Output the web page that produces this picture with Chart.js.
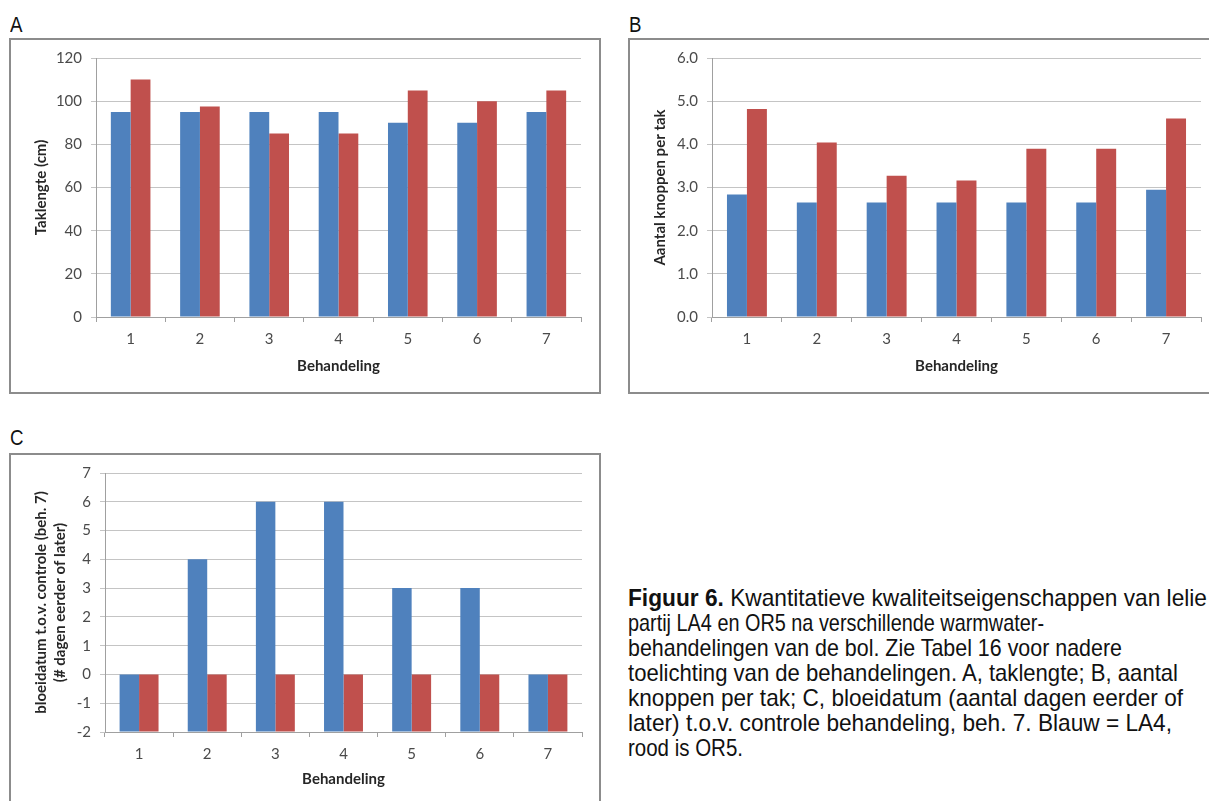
<!DOCTYPE html>
<html><head><meta charset="utf-8">
<script src="https://cdn.jsdelivr.net/npm/chart.js@4/dist/chart.umd.min.js"></script>
<style>
body{margin:0;background:#fff;width:1209px;height:801px;overflow:hidden;position:relative;font-family:'Liberation Sans',sans-serif;color:#111;}
.lbl{position:absolute;font-size:22px;line-height:22px;transform:scaleX(0.85);transform-origin:left top;}
.box{position:absolute;border:2px solid #8c8c8c;box-sizing:border-box;}
canvas{position:absolute;}
.cap{position:absolute;left:628px;top:585px;font-size:24px;line-height:25px;white-space:nowrap;}
.cap > div{width:max-content;transform-origin:left top;}
</style></head>
<body>
<div class="lbl" style="left:10px;top:14px">A</div>
<div class="lbl" style="left:629px;top:14px">B</div>
<div class="lbl" style="left:10px;top:427px">C</div>
<div class="box" style="left:9px;top:38px;width:592px;height:356px"></div>
<div class="box" style="left:628px;top:38px;width:600px;height:356px"></div>
<div class="box" style="left:9px;top:453px;width:592px;height:400px"></div>
<canvas id="cA" width="588" height="352" style="left:11px;top:40px;width:588px;height:352px"></canvas>
<canvas id="cB" width="579" height="352" style="left:630px;top:40px;width:579px;height:352px"></canvas>
<canvas id="cC" width="588" height="346" style="left:11px;top:455px;width:588px;height:346px"></canvas>
<div class="cap">
<div><b>Figuur 6.</b> Kwantitatieve kwaliteitseigenschappen van lelie</div>
<div>partij LA4 en OR5 na verschillende warmwater-</div>
<div>behandelingen van de bol. Zie Tabel 16 voor nadere</div>
<div>toelichting van de behandelingen. A, taklengte; B, aantal</div>
<div>knoppen per tak; C, bloeidatum (aantal dagen eerder of</div>
<div>later) t.o.v. controle behandeling, beh. 7. Blauw = LA4,</div>
<div>rood is OR5.</div>
</div>
<script>
// Data
const categories = ['1','2','3','4','5','6','7'];
const taklengteLA4 = [95, 95, 95, 95, 90, 90, 95];
const taklengteOR5 = [110, 97.5, 85, 85, 105, 100, 105];
const knoppenLA4 = [2.84, 2.65, 2.65, 2.65, 2.65, 2.65, 2.95];
const knoppenOR5 = [4.82, 4.04, 3.27, 3.16, 3.9, 3.9, 4.6];
const bloeiLA4 = [0, 4, 6, 6, 3, 3, 0];
const bloeiOR5 = [0, 0, 0, 0, 0, 0, 0];
const xTitle = 'Behandeling';
const yTitleA = 'Taklengte (cm)';
const yTitleB = 'Aantal knoppen per tak';
const yTitleC = ['bloeidatum t.o.v. controle (beh. 7)', '(# dagen eerder of later)'];

// caption line widths (layout only)
const capWidths = [579, 416, 494, 550, 555, 544, 115];
document.querySelectorAll('.cap > div').forEach((d, i) => {
  const w = d.getBoundingClientRect().width;
  d.style.transform = 'scaleX(' + (capWidths[i] / w) + ')';
});

const BLUE = '#4f81bd', RED = '#c0504d';
const FONT = "Lato, 'Open Sans', sans-serif";
const TICKC = '#4a4a4a', TITLEC = '#262626', GRIDC = '#c4c4c4', AXISC = '#a0a0a0';

function makeChart(id, opts) {
  const datasets = [
    {label: 'LA4', data: opts.blue, backgroundColor: BLUE, base: opts.min},
    {label: 'OR5', data: opts.red, backgroundColor: RED, base: opts.min}
  ];
  return new Chart(document.getElementById(id), {
    type: 'bar',
    data: {labels: categories, datasets},
    options: {
      responsive: false, animation: false,
      layout: {padding: {top: opts.padTop, right: opts.padRight, left: 0, bottom: 0}},
      plugins: {legend: {display: false}, tooltip: {enabled: false}},
      datasets: {bar: {categoryPercentage: 2/3.5, barPercentage: 1}},
      scales: {
        x: {
          grid: {drawOnChartArea: false, drawTicks: true, tickLength: 5, color: AXISC, offset: true},
          border: {color: AXISC, width: 1},
          ticks: {color: TICKC, font: {family: FONT, size: 15}, padding: 8},
          title: {display: true, text: xTitle, color: TITLEC, font: {family: FONT, size: 15, weight: 'bold'}, padding: {top: 0, bottom: opts.xTitlePad}},
          afterFit: s => { s.height = opts.xH; }
        },
        y: {
          min: opts.min, max: opts.max,
          grid: {color: GRIDC, tickLength: 5, drawTicks: true},
          border: {color: AXISC, width: 1},
          ticks: {stepSize: opts.step, color: TICKC, font: {family: FONT, size: 15}, padding: 9,
            callback: v => opts.dec ? Number(v).toFixed(1) : String(v)},
          title: {display: true, text: opts.yTitle, color: TITLEC, font: {family: FONT, size: 15, weight: 'bold', lineHeight: opts.yLH || 1.2}, padding: {top: opts.yTitlePad, bottom: 0}},
          afterFit: s => { s.width = opts.yW; }
        }
      }
    }
  });
}

makeChart('cA', {blue: taklengteLA4, red: taklengteOR5, min: 0, max: 120, step: 20, dec: false,
  yTitle: yTitleA, padTop: 17, padRight: 18, xH: 75, yW: 85, xTitlePad: 17, yTitlePad: 21});
makeChart('cB', {blue: knoppenLA4, red: knoppenOR5, min: 0, max: 6, step: 1, dec: true,
  yTitle: yTitleB, padTop: 17, padRight: 8, xH: 75, yW: 82, xTitlePad: 17, yTitlePad: 21});
makeChart('cC', {blue: bloeiLA4, red: bloeiOR5, min: -2, max: 7, step: 1, dec: false,
  yTitle: yTitleC, padTop: 17, padRight: 17, xH: 69, yW: 94, xTitlePad: 13, yTitlePad: 20, yLH: 1.3});
</script>
</body></html>
